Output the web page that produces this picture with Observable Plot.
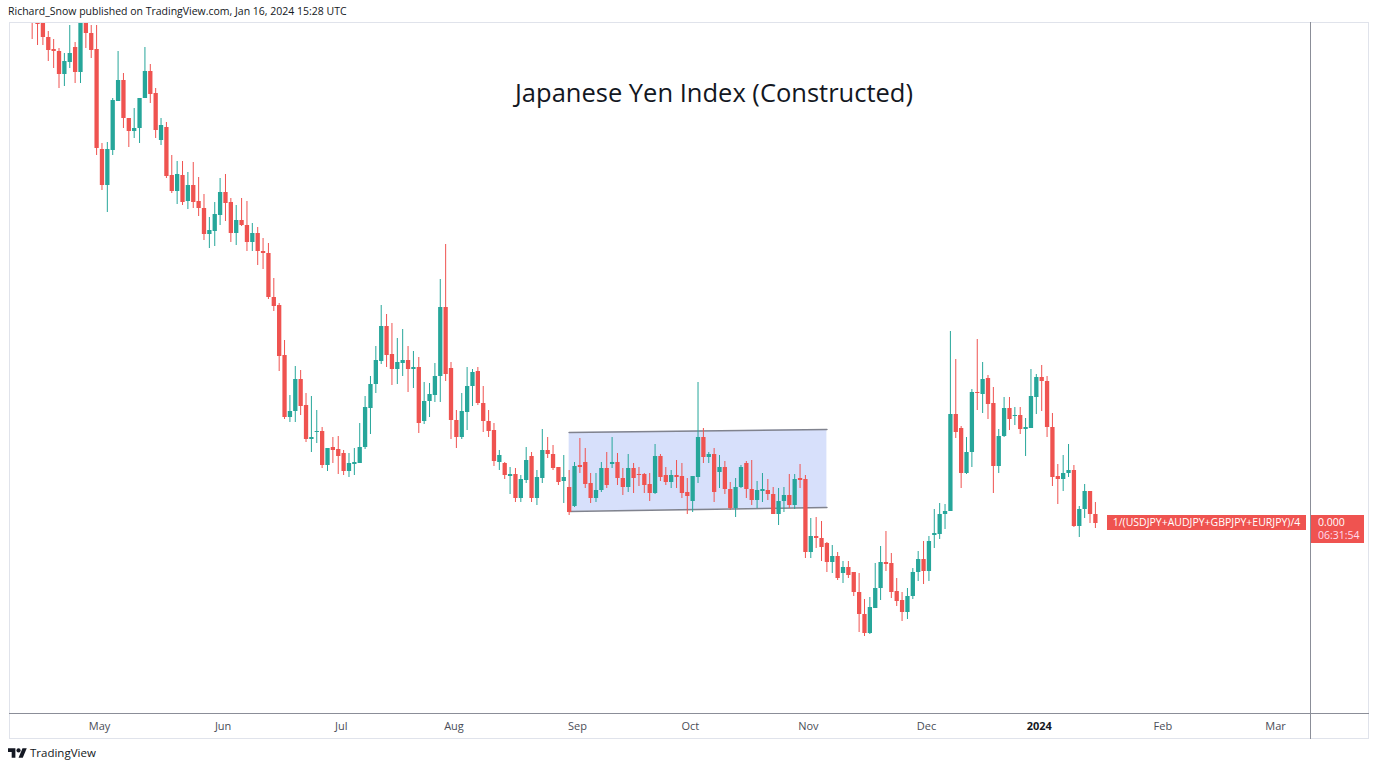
<!DOCTYPE html>
<html><head><meta charset="utf-8">
<script src="https://cdn.jsdelivr.net/npm/d3@7"></script>
<script src="https://cdn.jsdelivr.net/npm/@observablehq/plot@0.6"></script>
<style>
html,body{margin:0;padding:0;background:#fff;}
#page{position:relative;width:1377px;height:770px;overflow:hidden;font-family:"Open Sans",sans-serif;}
#header{position:absolute;left:8px;top:4px;font-size:10.5px;color:#131722;white-space:nowrap;}
#chart{position:absolute;left:0;top:22px;}
#frame{position:absolute;left:9px;top:22px;width:1360px;height:717px;border:1px solid #e0e3eb;box-sizing:border-box;pointer-events:none;}
#axisline{position:absolute;left:9px;top:713px;width:1360px;height:1px;background:#8b8e98;}
#sep{position:absolute;left:1310px;top:22px;width:1px;height:717px;background:#8b8e98;}
#title{position:absolute;left:714px;top:75px;transform:translateX(-50%);font-size:25.5px;font-weight:500;color:#131722;white-space:nowrap;}
.rbox{position:absolute;background:#ef5350;color:#fff;font-size:10.5px;white-space:nowrap;}
#footer{position:absolute;left:8px;top:745px;display:flex;align-items:center;font-size:11.5px;color:#131722;}
</style></head>
<body><div id="page">
<div id="header"></div>
<div id="chart"></div>
<div id="frame"></div>
<div id="axisline"></div>
<div id="sep"></div>
<div id="title"></div>
<div id="footer"><svg width="19" height="13" viewBox="0 0 36 24"><path d="M14 22H7V11H0V4h14v18z" fill="#131722"/><circle cx="20" cy="8" r="4" fill="#131722"/><path d="M28 22h-8l7.5-18h8L28 22z" fill="#131722"/></svg><span style="margin-left:3px">TradingView</span></div>
</div>
<script>
// Daily OHLC of the constructed yen index (index points)
const open = [
988,985,980,963,951,949,926,938,953,928,
982,967,951,851,815,850,899,920,882,869,
872,902,929,907,860,873,825,809,825,799,
815,799,792,766,769,785,808,798,767,780,
775,758,767,749,747,703,695,645,583,589,
621,595,561,568,569,535,553,551,547,529,
536,537,553,592,616,639,674,646,631,637,
640,631,633,579,599,605,624,693,632,580,
563,588,614,629,597,579,570,538,537,524,
526,502,520,544,502,522,550,546,533,519,
513,494,535,538,517,502,510,532,536,538,
522,513,532,526,526,516,507,544,525,518,
525,524,508,499,523,563,543,546,528,533,
511,492,513,537,511,500,509,510,506,486,
499,505,495,522,521,448,464,462,457,438,
444,427,433,428,408,386,367,392,412,438,
437,409,400,388,404,428,441,429,465,466,
486,489,586,572,527,548,608,606,622,597,
534,564,592,584,585,571,572,603,623,619,
573,524,521,527,530,474,491,509,486];
const high = [
992,990,985,969,961,952,947,975,958,988,
988,975,975,857,858,902,949,927,882,892,
902,953,936,912,882,878,845,839,839,828,
838,823,806,783,798,822,826,802,795,802,
799,777,773,762,757,722,697,660,605,634,
630,607,604,590,573,552,563,564,550,547,
552,577,604,624,654,695,686,677,662,671,
654,649,643,618,617,637,721,756,638,590,
607,633,631,633,614,590,577,550,538,533,
532,525,553,548,530,571,563,555,533,545,
530,538,562,552,527,527,538,548,563,547,
532,546,537,533,527,527,556,546,533,530,
540,537,522,524,618,572,548,552,545,539,
518,522,535,539,540,519,527,521,513,512,
513,526,526,536,525,482,483,479,458,455,
448,439,439,428,427,401,403,437,454,469,
447,422,408,412,432,449,459,464,491,497,
496,669,641,574,563,611,661,638,625,613,
571,603,603,593,593,582,631,626,635,624,
587,536,545,556,535,494,516,509,498];
const low = [
961,955,955,939,932,912,914,932,917,917,
952,942,845,810,788,845,899,872,853,862,
857,902,897,862,855,822,807,796,795,791,
792,784,760,752,754,775,779,758,755,774,
749,749,735,731,701,689,629,581,578,578,
585,558,548,557,532,529,537,526,525,523,
525,537,551,566,607,636,633,615,616,624,
608,612,567,576,583,598,598,619,561,552,
561,570,594,595,568,563,534,530,521,506,
498,498,517,498,495,517,542,530,515,497,
485,493,527,512,497,498,508,512,532,515,
505,508,507,514,507,499,506,519,515,512,
512,502,486,488,517,537,537,498,512,506,
490,483,512,502,495,492,498,500,486,475,
488,492,491,512,442,442,452,439,428,427,
420,417,422,404,368,364,366,392,400,429,
402,394,379,381,401,419,416,419,452,461,
471,489,562,512,526,533,590,587,581,507,
527,563,570,575,566,544,572,586,589,563,
514,496,509,523,473,463,482,477,472];
const close = [
980,976,963,950,949,926,939,947,928,982,
967,950,852,815,851,900,920,882,869,872,
902,929,906,870,875,824,809,826,798,815,
798,792,766,770,786,808,797,767,780,775,
758,767,749,747,703,694,644,583,589,621,
594,561,563,569,535,552,550,544,529,537,
538,553,593,616,640,674,645,631,638,640,
631,633,577,599,606,624,693,626,580,563,
589,614,628,597,579,569,539,545,525,526,
502,521,540,502,523,550,546,532,518,523,
488,534,533,516,502,510,532,515,538,522,
513,532,522,525,515,507,544,523,518,525,
523,507,504,524,563,543,546,508,533,511,
492,513,533,511,500,510,511,506,486,499,
505,495,521,520,448,464,462,453,438,444,
422,433,425,408,386,367,393,412,438,436,
408,399,388,404,428,441,429,459,467,486,
489,586,568,527,548,608,607,621,596,534,
564,592,581,585,571,573,604,623,619,573,
523,521,527,530,474,491,509,486,477];

const firstCandleDay = "2023-04-13";
const axisStart = "2023-04-07", axisEnd = "2024-03-12";
const monthTicks = ["2023-05-01","2023-06-01","2023-07-03","2023-08-01","2023-09-01","2023-10-02","2023-11-01","2023-12-01","2024-01-01","2024-02-01","2024-03-01"];
const monthLabels = ["May","Jun","Jul","Aug","Sep","Oct","Nov","Dec","2024","Feb","Mar"];
const channelDates = ["2023-08-31","2023-11-07"];
const channelTop = [568, 571];
const channelBottom = [489, 493];
const titleText = "Japanese Yen Index (Constructed)";
const headerText = "Richard_Snow published on TradingView.com, Jan 16, 2024 15:28 UTC";
const symbolLabel = "1/(USDJPY+AUDJPY+GBPJPY+EURJPY)/4";
const priceLabel = "0.000";
const countdownLabel = "06:31:54";

const fmt = d3.utcFormat("%Y-%m-%d");
const axisDays = d3.utcDays(new Date(axisStart), new Date(axisEnd)).filter(d => d.getUTCDay() % 6 !== 0).map(fmt);
const i0 = axisDays.indexOf(firstCandleDay);
const candles = open.map((o, i) => ({date: axisDays[i0 + i], open: o, high: high[i], low: low[i], close: close[i], dir: close[i] >= o ? "up" : "down"}));
const channel = channelDates.map((d, i) => ({date: d, top: channelTop[i], bottom: channelBottom[i]}));
const ticks = monthTicks.map((d, i) => ({date: d, label: monthLabels[i]}));

const chart = Plot.plot({
  width: 1377, height: 716,
  marginLeft: 7.5, marginRight: 70, marginTop: 0, marginBottom: 25,
  style: {background: "transparent", overflow: "hidden", fontFamily: "Open Sans, sans-serif"},
  x: {type: "point", domain: axisDays, padding: 0.5, axis: null},
  y: {domain: [287, 978], axis: null},
  color: {domain: ["up", "down"], range: ["#26a69a", "#ef5350"]},
  marks: [
    Plot.areaY(channel, {x: "date", y1: "bottom", y2: "top", fill: "#d7e0fb"}),
    Plot.line(channel, {x: "date", y: "top", stroke: "#80838e", strokeWidth: 1.6}),
    Plot.line(channel, {x: "date", y: "bottom", stroke: "#80838e", strokeWidth: 1.6}),
    Plot.ruleX(candles, {x: "date", y1: "low", y2: "high", stroke: "dir", strokeWidth: 1, clip: true}),
    Plot.ruleX(candles, {x: "date", y1: "open", y2: "close", stroke: "dir", strokeWidth: 4.3, clip: true}),
    Plot.text(ticks.filter(t => !/^\d+$/.test(t.label)), {x: "date", text: "label", frameAnchor: "bottom", dy: 16, dx: 3, fontSize: 11, fill: "#4a4d57"}),
    Plot.text(ticks.filter(t => /^\d+$/.test(t.label)), {x: "date", text: "label", frameAnchor: "bottom", dy: 16, dx: 3, fontSize: 11, fontWeight: "bold", fill: "#131722"})
  ]
});
document.getElementById("chart").appendChild(chart);
document.getElementById("title").textContent = titleText;
document.getElementById("header").textContent = headerText;

const yScale = chart.scale("y");
const yLast = 22 + yScale.apply(close[close.length - 1]);
const page = document.getElementById("page");
const nameBox = document.createElement("div");
nameBox.className = "rbox";
nameBox.textContent = symbolLabel;
Object.assign(nameBox.style, {left: "1107px", top: (yLast - 8.5) + "px", width: "199px", height: "15px", lineHeight: "15px", textAlign: "center", fontWeight: "500"});
page.appendChild(nameBox);
const priceBox = document.createElement("div");
priceBox.className = "rbox";
priceBox.innerHTML = `<div style="padding-left:7px;line-height:13px;padding-top:1px">${priceLabel}</div><div style="padding-left:7px;line-height:13px;color:#fde">${countdownLabel}</div>`;
Object.assign(priceBox.style, {left: "1311px", top: (yLast - 8.5) + "px", width: "53px", height: "28px"});
page.appendChild(priceBox);
</script>
</body></html>
